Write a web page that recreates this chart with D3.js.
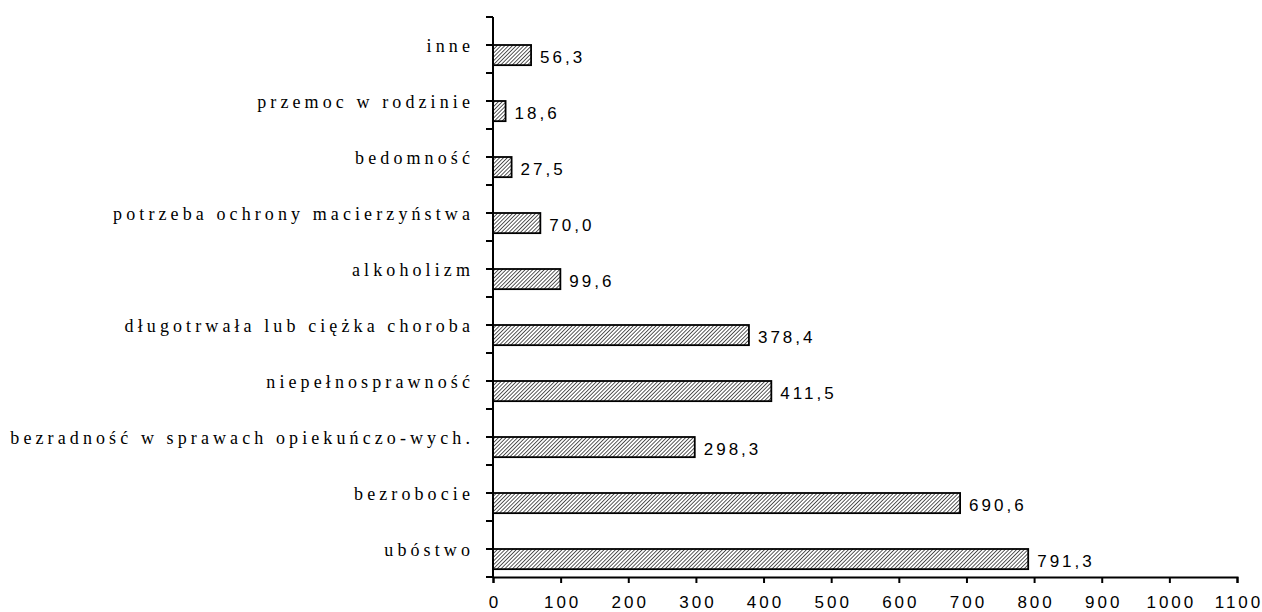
<!DOCTYPE html>
<html><head><meta charset="utf-8">
<script src="https://cdn.jsdelivr.net/npm/d3@7"></script>
<style>html,body{margin:0;padding:0;background:#fff;overflow:hidden}</style>
</head><body>
<svg id="chart" width="1262" height="612"></svg>
<script>
const categories = ["inne","przemoc w rodzinie","bedomność","potrzeba ochrony macierzyństwa","alkoholizm","długotrwała lub ciężka choroba","niepełnosprawność","bezradność w sprawach opiekuńczo-wych.","bezrobocie","ubóstwo"];
const values = [56.3, 18.6, 27.5, 70.0, 99.6, 378.4, 411.5, 298.3, 690.6, 791.3];
const valueLabels = ["56,3","18,6","27,5","70,0","99,6","378,4","411,5","298,3","690,6","791,3"];
const xTicks = [0,100,200,300,400,500,600,700,800,900,1000,1100];

const svg = d3.select("#chart");
const x = d3.scaleLinear().domain([0,1100]).range([493,1237]);
const y = d3.scaleBand().domain(categories).range([17,577]).paddingInner(0).paddingOuter(0);
const bw = y.bandwidth();

const defs = svg.append("defs");
const pat = defs.append("pattern").attr("id","hatch").attr("patternUnits","userSpaceOnUse")
  .attr("width",2.7).attr("height",2.7).attr("patternTransform","rotate(45)");
pat.append("rect").attr("width",2.7).attr("height",2.7).attr("fill","#fff");
pat.append("line").attr("x1",0).attr("y1",0).attr("x2",0).attr("y2",2.7).attr("stroke","#000").attr("stroke-width",1.3);

// bars
svg.append("g").selectAll("rect").data(categories).join("rect")
  .attr("x", x(0))
  .attr("y", d => y(d) + bw/2)
  .attr("width", (d,i) => x(values[i]) - x(0))
  .attr("height", bw*0.36)
  .attr("fill","url(#hatch)")
  .attr("stroke","#000").attr("stroke-width",1.8);

// value labels
svg.append("g").selectAll("text").data(categories).join("text")
  .attr("x", (d,i) => x(values[i]) + 9)
  .attr("y", d => y(d) + bw/2 + bw*0.18 + 8)
  .attr("font-family","Liberation Sans, Arial, sans-serif")
  .attr("font-size",17).attr("letter-spacing","3px")
  .attr("fill","#000")
  .text((d,i) => valueLabels[i]);

// category labels
svg.append("g").selectAll("text").data(categories).join("text")
  .attr("x", 474)
  .attr("y", d => y(d) + bw/2 + 7)
  .attr("text-anchor","end")
  .attr("font-family","Liberation Serif, Times New Roman, serif")
  .attr("font-size",18).attr("letter-spacing","4.1px")
  .attr("fill","#000")
  .text(d => d);

// y axis
const yTickPos = d3.range(0, categories.length*2+1).map(i => 17 + i*bw/2);
const ya = svg.append("g");
ya.append("line").attr("x1",x(0)).attr("x2",x(0)).attr("y1",17).attr("y2",577).attr("stroke","#000").attr("stroke-width",2);
ya.selectAll("line.t").data(yTickPos).join("line").attr("class","t")
  .attr("x1",x(0)-7).attr("x2",x(0)).attr("y1",d=>d).attr("y2",d=>d).attr("stroke","#000").attr("stroke-width",2);

// x axis
const xa = svg.append("g").attr("transform","translate(0,577)")
  .call(d3.axisBottom(x).tickValues(xTicks).tickSize(6).tickFormat(d3.format("d")));
xa.select(".domain").attr("stroke","#000").attr("stroke-width",2);
xa.selectAll(".tick line").attr("stroke","#000").attr("stroke-width",2);
xa.selectAll(".tick text").attr("font-family","Liberation Sans, Arial, sans-serif")
  .attr("font-size",17).attr("letter-spacing","3px").attr("fill","#000")
  .attr("y",31).attr("dy",0).attr("dx","1.5px");
</script>
</body></html>
